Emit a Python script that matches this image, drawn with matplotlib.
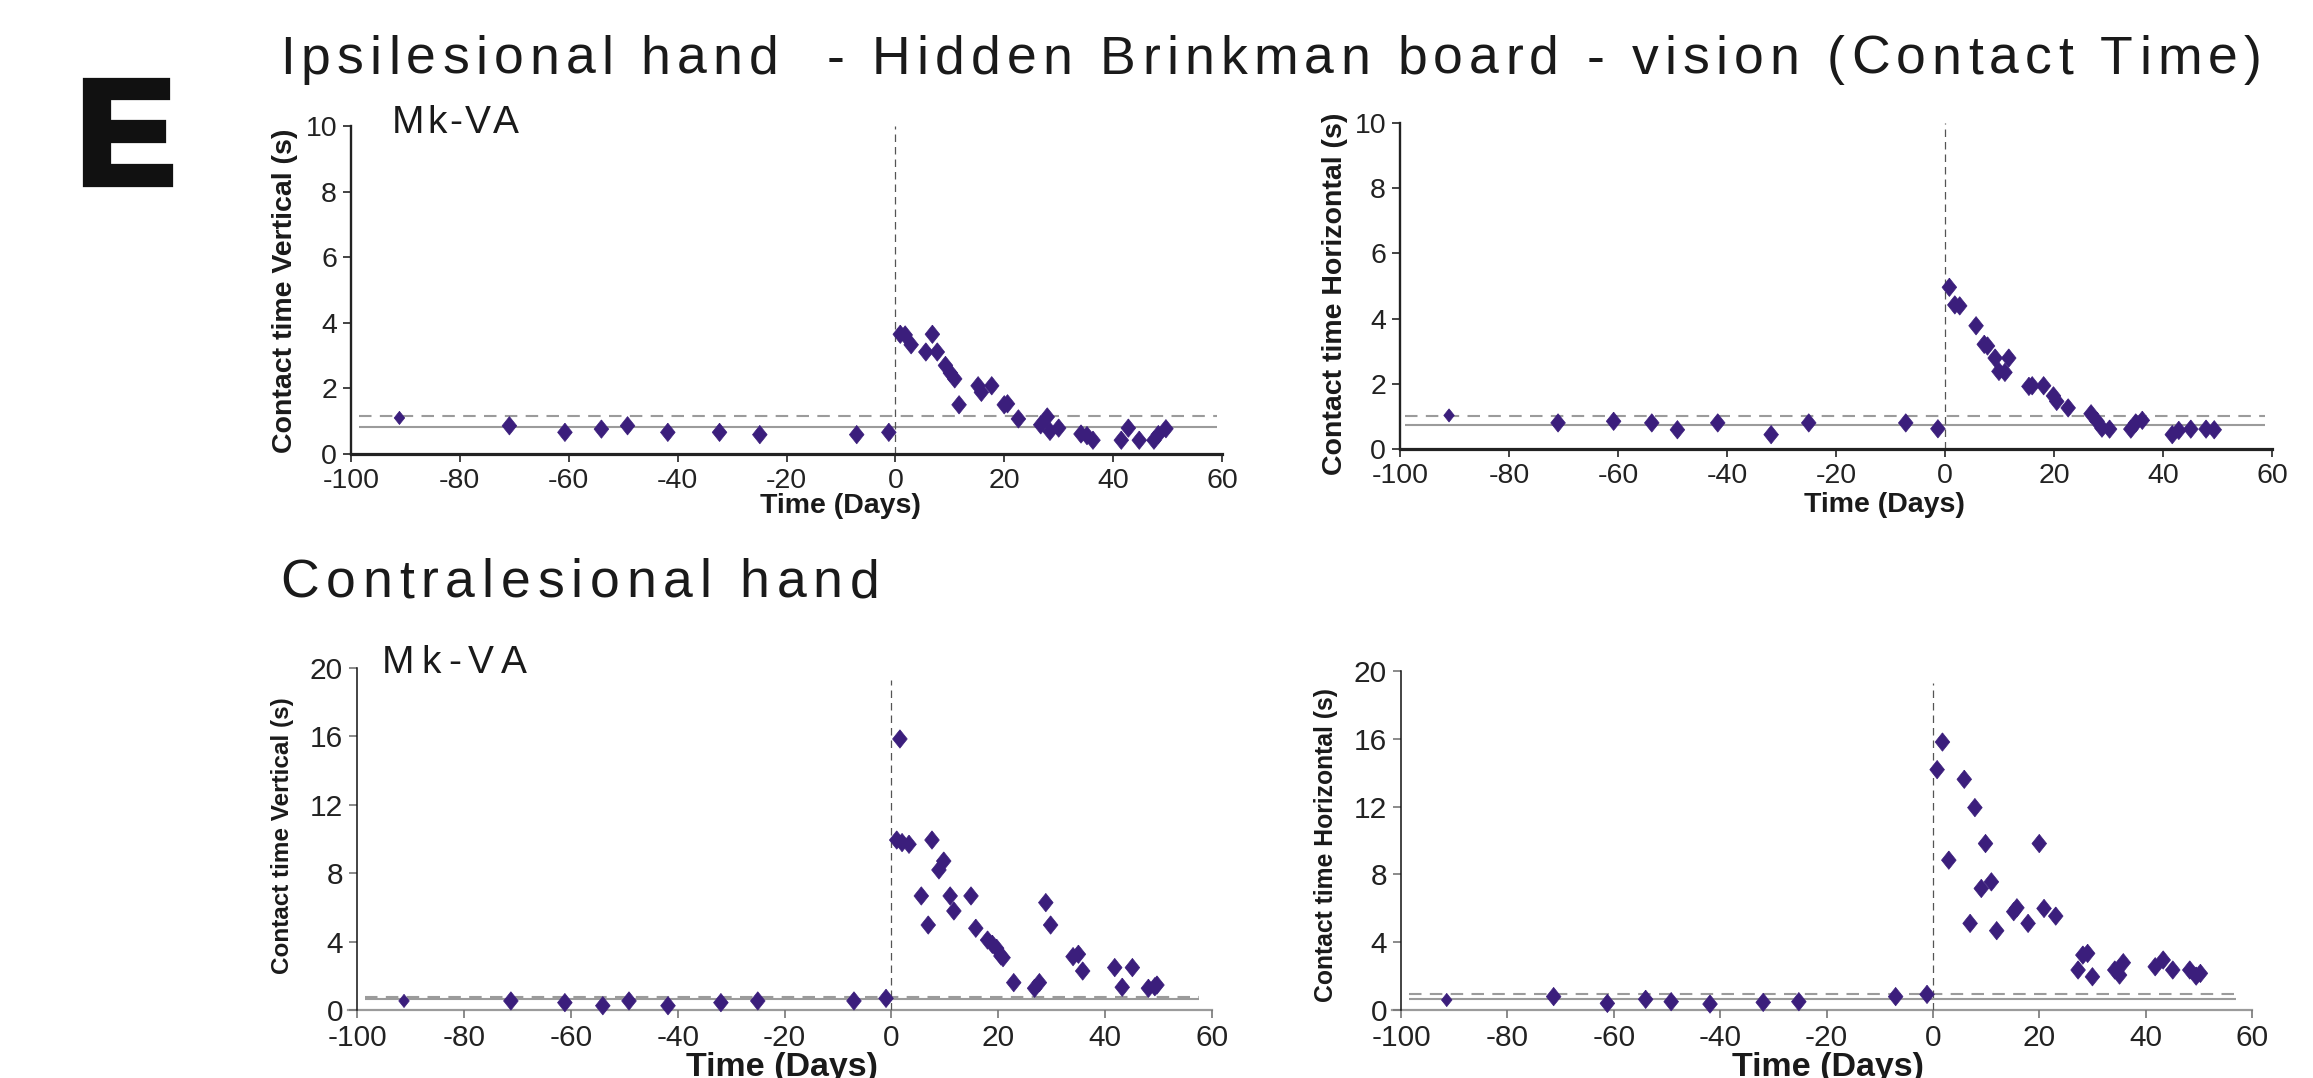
import matplotlib
matplotlib.use("Agg")
import matplotlib.pyplot as plt
import matplotlib.patheffects as pe
from matplotlib import font_manager

# ---------------- data ----------------
days_ipsi_v = [-91.1, -70.9, -60.7, -54.0, -49.2, -41.8, -32.3, -24.9, -7.1, -1.2,
               0.9, 1.8, 2.9, 5.6, 6.8, 7.7, 9.2, 10.1, 10.9, 11.7, 15.2, 15.8, 17.7,
               20.0, 20.6, 22.6, 26.7, 27.9, 28.4, 30.0, 34.1, 35.2, 36.3, 41.5, 42.8,
               44.8, 47.5, 48.3, 49.7]
ct_ipsi_v = [1.10, 0.86, 0.66, 0.76, 0.86, 0.66, 0.66, 0.59, 0.59, 0.66,
             3.65, 3.63, 3.33, 3.11, 3.65, 3.11, 2.70, 2.47, 2.29, 1.50, 2.08, 1.88, 2.08,
             1.50, 1.53, 1.07, 0.89, 1.13, 0.69, 0.79, 0.61, 0.56, 0.42, 0.42, 0.79,
             0.42, 0.42, 0.59, 0.77]

days_ipsi_h = [-91.0, -71.0, -60.8, -53.8, -49.1, -41.7, -31.9, -25.0, -7.2, -1.3,
               0.8, 1.8, 2.7, 5.7, 7.2, 7.8, 9.2, 9.9, 11.0, 11.7, 15.4, 16.0, 18.1,
               19.9, 20.5, 22.6, 26.8, 27.9, 28.8, 30.2, 34.1, 35.0, 36.2, 41.7, 42.9,
               45.1, 47.9, 49.4]
ct_ipsi_h = [1.03, 0.80, 0.85, 0.80, 0.59, 0.80, 0.44, 0.80, 0.80, 0.62,
             4.96, 4.42, 4.39, 3.78, 3.21, 3.16, 2.79, 2.38, 2.35, 2.79, 1.92, 1.94, 1.94,
             1.63, 1.46, 1.26, 1.08, 0.85, 0.64, 0.61, 0.61, 0.80, 0.88, 0.44, 0.57,
             0.61, 0.61, 0.59]

days_contra_v = [-91.2, -71.2, -61.1, -54.0, -49.1, -41.8, -31.9, -25.0, -7.0, -1.0,
                 1.0, 1.6, 2.0, 3.3, 5.6, 6.9, 7.6, 8.9, 9.8, 11.0, 11.7, 14.9, 15.8,
                 18.0, 18.9, 19.7, 20.5, 20.9, 22.9, 26.8, 27.7, 28.9, 29.8, 34.0,
                 35.0, 35.8, 41.8, 43.2, 45.1, 48.1, 49.3, 49.7]
ct_contra_v = [0.53, 0.53, 0.43, 0.25, 0.53, 0.25, 0.43, 0.53, 0.53, 0.68,
               9.94, 15.85, 9.79, 9.69, 6.67, 4.97, 9.94, 8.19, 8.71, 6.67, 5.79, 6.67, 4.78,
               4.09, 3.84, 3.61, 3.16, 3.06, 1.60, 1.27, 1.60, 6.28, 4.97, 3.12,
               3.26, 2.28, 2.48, 1.33, 2.48, 1.27, 1.36, 1.46]

days_contra_h = [-91.4, -71.3, -61.2, -54.0, -49.2, -41.9, -31.9, -25.2, -7.0, -1.1,
                 0.8, 1.8, 3.0, 5.9, 7.0, 7.9, 9.1, 9.9, 11.0, 12.0, 15.2, 15.8, 17.9,
                 20.0, 20.9, 23.1, 27.3, 28.2, 29.1, 30.0, 34.2, 35.1, 35.8, 41.8, 43.3,
                 45.1, 48.3, 49.5, 50.3]
ct_contra_h = [0.59, 0.79, 0.39, 0.63, 0.49, 0.35, 0.45, 0.49, 0.79, 0.92,
               14.18, 15.81, 8.84, 13.61, 5.11, 11.94, 7.17, 9.82, 7.56, 4.68, 5.80, 6.03, 5.11,
               9.82, 5.99, 5.54, 2.36, 3.24, 3.34, 1.96, 2.36, 2.06, 2.79, 2.55, 2.95,
               2.36, 2.36, 2.00, 2.16]

# reference (normal-range) levels per panel: dashed and solid
ref_dashed = [1.15, 1.00, 0.78, 0.94]
ref_solid = [0.81, 0.745, 0.63, 0.63]
ref_xmin = [-98.5, -99.0, -98.5, -98.5]
ref_xmax = [59.0, 58.8, 57.5, 57.0]
lesion_day = 0
lesion_line_top = [10.0, 10.0, 19.3, 19.3]

x_ticks = [-100, -80, -60, -40, -20, 0, 20, 40, 60]
y_ticks_top = [0, 2, 4, 6, 8, 10]
y_ticks_bottom = [0, 4, 8, 12, 16, 20]

title_text = "Ipsilesional hand  - Hidden Brinkman board - vision (Contact Time)"
subtitle_text = "Contralesional hand"
panel_letter = "E"
monkey = "Mk-VA"
xlabel = "Time (Days)"
ylabels = ["Contact time Vertical (s)", "Contact time Horizontal (s)",
           "Contact time Vertical (s)", "Contact time Horizontal (s)"]

# ---------------- figure ----------------
W, H = 2313, 1078
plt.rcParams['font.family'] = ['Liberation Sans', 'DejaVu Sans']
plt.rcParams['axes.unicode_minus'] = False
fig = plt.figure(figsize=(W / 100, H / 100), dpi=100)
fig.patch.set_facecolor('white')

names = {f.name for f in font_manager.fontManager.ttflist}
narrow = 'Liberation Sans Narrow' in names

MARK = '#3b1e7c'
GRAY = '#9b9b9b'
DARK = '#222222'
diamond = [(0, 1), (0.8, 0), (0, -1), (-0.8, 0), (0, 1)]

# axes boxes in pixel coordinates: (x_left(-100), x_right(60), y_zero, y_top)
boxes = [(351, 1222, 454, 126), (1400, 2272, 449, 123),
         (357, 1212, 1010, 668), (1401, 2252, 1010, 671)]
datasets = [(days_ipsi_v, ct_ipsi_v), (days_ipsi_h, ct_ipsi_h),
            (days_contra_v, ct_contra_v), (days_contra_h, ct_contra_h)]

axes = []
for i, ((xl, xr, y0, yt), (dx, dy)) in enumerate(zip(boxes, datasets)):
    ax = fig.add_axes([xl / W, 1 - y0 / H, (xr - xl) / W, (y0 - yt) / H])
    top = i < 2
    ax.set_xlim(-100, 60)
    ax.set_ylim(0, 10 if top else 20)
    ax.set_xticks(x_ticks)
    ax.set_yticks(y_ticks_top if top else y_ticks_bottom)
    for s in ['top', 'right']:
        ax.spines[s].set_visible(False)
    fs = 20.5 if top else 21.5
    if top:
        ax.spines['left'].set_color(DARK)
        ax.spines['left'].set_linewidth(1.7)
        ax.spines['bottom'].set_color(DARK)
        ax.spines['bottom'].set_linewidth(2.3)
        ax.tick_params(axis='both', length=6, width=1.2, color=DARK, pad=4,
                       labelsize=fs, labelcolor=DARK, direction='out')
    else:
        ax.spines['left'].set_color('#111111')
        ax.spines['left'].set_linewidth(1.1)
        ax.spines['bottom'].set_visible(False)
        ax.tick_params(axis='both', length=6, width=1.2, color='#777777', pad=4,
                       labelsize=fs, labelcolor=DARK, direction='out')
        ax.axhline(0, xmin=-0.011, xmax=1.0, color=GRAY, lw=1.6, clip_on=False, zorder=1)
    ax.patch.set_alpha(0)

    # reference lines
    ax.hlines(ref_solid[i], ref_xmin[i], ref_xmax[i], color=GRAY, lw=1.5, zorder=2)
    ax.hlines(ref_dashed[i], ref_xmin[i], ref_xmax[i], color=GRAY, lw=1.5,
              linestyles=(0, (6.0, 4.0)), zorder=2)
    ylim_top = ax.get_ylim()[1]
    ax.axvline(lesion_day, ymin=0, ymax=lesion_line_top[i] / ylim_top, color='#555555',
               lw=0.9, linestyle=(0, (6, 4)), zorder=2)

    # markers: first (oldest baseline) point is drawn smaller
    sizes = [9.5 ** 2] + [13.2 ** 2] * (len(dx) - 1)
    ax.scatter(dx, dy, s=sizes, marker=diamond, color=MARK, edgecolor=MARK,
               linewidths=0.5, zorder=4, clip_on=False)
    axes.append(ax)

renderer = fig.canvas.get_renderer()


def spaced(x0, yb, s, size, sp, **kw):
    """Draw text char by char with extra letter spacing (pixel coords, baseline)."""
    ref = fig.text(0, 0, '||', fontsize=size, **kw)
    wref = ref.get_window_extent(renderer).width
    ref.remove()
    x = x0
    for ch in s:
        fig.text(x / W, 1 - yb / H, ch, fontsize=size, ha='left', va='baseline', **kw)
        t = fig.text(0, 0, '|' + ch + '|', fontsize=size, **kw)
        w = t.get_window_extent(renderer).width - wref
        t.remove()
        x += w + sp


spaced(280, 74, title_text, 38.5, 6.2, color='#1a1a1a')
spaced(280, 597, subtitle_text, 38.5, 6.8, color='#1a1a1a')
fig.text(76 / W, 1 - 184 / H, panel_letter, fontsize=108, fontweight='bold',
         color='#111111', ha='left', va='baseline',
         path_effects=[pe.Stroke(linewidth=4.5, foreground='#111111', joinstyle='miter'),
                       pe.Normal()])
spaced(392, 133, monkey, 28, 2.5, color='#1a1a1a')
spaced(382, 673, monkey, 28, 7.0, color='#1a1a1a')

# axis labels
xlab_pos = [(840, 493, 20.5), (1884, 492, 20.5), (782, 1052, 24.5), (1828, 1052, 24.5)]
for (cx, ty, fs) in xlab_pos:
    fig.text(cx / W, 1 - ty / H, xlabel, fontsize=fs, fontweight='bold', color='#1a1a1a',
             ha='center', va='top')

ylab_pos = [(285, 291, 20.5), (1335, 294, 20.5), (282, 836, 17.5), (1326, 845, 17.8)]
for (cx, cy, fs), lab in zip(ylab_pos, ylabels):
    fam = ['Liberation Sans', 'DejaVu Sans']
    if narrow and fs < 18:
        fam = ['Liberation Sans Narrow', 'Liberation Sans', 'DejaVu Sans']
        fs = fs * 1.2
    fig.text(cx / W, 1 - cy / H, lab, fontsize=fs, fontweight='bold', color='#1a1a1a',
             ha='center', va='center', rotation=90, family=fam)

fig.savefig('out.png', dpi=100, facecolor='white')
